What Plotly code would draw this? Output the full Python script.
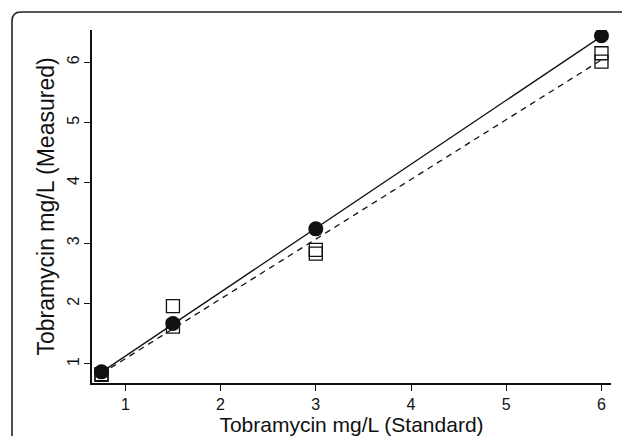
import plotly.graph_objects as go

# Data
x_std = [0.75, 1.5, 3, 6]
measured_filled = [0.87, 1.67, 3.24, 6.44]
measured_open_a = [0.82, 1.96, 2.89, 6.15]
measured_open_b = [0.83, 1.62, 2.83, 6.01]
fit_x = [0.75, 6]
fit_solid_y = [0.865, 6.43]
fit_dashed_y = [0.84, 6.04]
x_ticks = [1, 2, 3, 4, 5, 6]
y_ticks = [1, 2, 3, 4, 5, 6]

W, H = 622, 436
ML, MR, MT, MB = 92, 11, 30, 53
pw, ph = W - ML - MR, H - MT - MB

def px_x(p):
    return (p - ML) / pw

def px_y(p):
    return 1 + (MT - p) / ph

fig = go.Figure()
for ys in (measured_open_a, measured_open_b):
    fig.add_trace(go.Scatter(
        x=x_std, y=ys, mode="markers",
        marker=dict(symbol="square-open", size=13, color="#111",
                    line=dict(width=1.3, color="#111")),
        showlegend=False, hoverinfo="skip"))
fig.add_trace(go.Scatter(x=fit_x, y=fit_dashed_y, mode="lines",
                         line=dict(color="#111", width=1.3, dash="6px,5px"),
                         showlegend=False))
fig.add_trace(go.Scatter(x=fit_x, y=fit_solid_y, mode="lines",
                         line=dict(color="#111", width=1.3),
                         showlegend=False))
fig.add_trace(go.Scatter(x=x_std, y=measured_filled, mode="markers",
                         marker=dict(symbol="circle", size=15, color="#111"),
                         showlegend=False))

# rounded outer frame (top-left corner visible)
x0 = px_x(12)
y0 = px_y(12)
rx = 9 / pw
ry = 9 / ph
path = (f"M {x0},{px_y(450)} L {x0},{y0 - ry} "
        f"Q {x0},{y0} {x0 + rx},{y0} L {px_x(640)},{y0}")
fig.add_shape(type="path", xref="paper", yref="paper", path=path,
              line=dict(color="#222", width=1.6))

font = "Liberation Sans, Arial, Helvetica, sans-serif"
fig.update_layout(
    width=W, height=H,
    margin=dict(l=ML, r=MR, t=MT, b=MB, autoexpand=False),
    paper_bgcolor="white", plot_bgcolor="white",
    font=dict(family=font, color="#111"),
    xaxis=dict(range=[0.65, 6.10], tickvals=x_ticks, ticks="outside",
               ticklen=6, tickwidth=1.3, tickcolor="#111",
               showline=True, linecolor="#111", linewidth=1.5,
               showgrid=False, zeroline=False, automargin=False,
               tickfont=dict(size=16), ticklabelstandoff=0,
               title=dict(text="Tobramycin mg/L (Standard)",
                          font=dict(size=21), standoff=10)),
    yaxis=dict(range=[0.685, 6.535], tickvals=y_ticks, ticks="outside",
               ticklen=6, tickwidth=1.3, tickcolor="#111",
               showline=True, linecolor="#111", linewidth=1.5,
               showgrid=False, zeroline=False, tickangle=-90,
               automargin=False,
               tickfont=dict(size=16), ticklabelstandoff=-1,
               title=dict(text="Tobramycin mg/L (Measured)",
                          font=dict(size=23), standoff=4)),
)

fig.write_html("out.html", config={"displayModeBar": False},
               post_script="document.body.style.margin='0';")
